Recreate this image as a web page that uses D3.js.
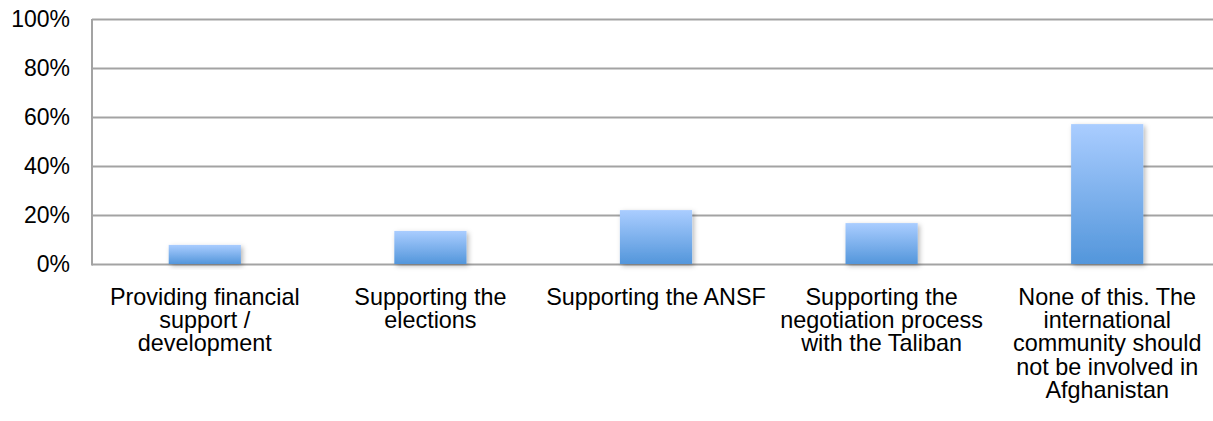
<!DOCTYPE html>
<html>
<head>
<meta charset="utf-8">
<script src="https://cdn.jsdelivr.net/npm/d3@7"></script>
<style>
  html, body { margin: 0; padding: 0; background: #fff; }
  svg { display: block; }
  text { font-family: "Liberation Sans", Arial, Helvetica, sans-serif; fill: #000; }
</style>
</head>
<body>
<svg id="chart" width="1213" height="421"></svg>
<script>
const categories = [
  "Providing financial\nsupport /\ndevelopment",
  "Supporting the\nelections",
  "Supporting the ANSF",
  "Supporting the\nnegotiation process\nwith the Taliban",
  "None of this. The\ninternational\ncommunity should\nnot be involved in\nAfghanistan"
];
const values = [0.078, 0.135, 0.22, 0.167, 0.571];
const yTicks = [0, 0.2, 0.4, 0.6, 0.8, 1.0];

const svg = d3.select("#chart");
const margin = { left: 92, top: 19, right: -7, bottom: 157 };
const W = 1213, H = 421;
const x0 = margin.left, x1 = W - margin.right;
const yTop = margin.top, yBot = H - margin.bottom;

const x = d3.scaleBand().domain(categories).range([x0, x1]).paddingInner(0).paddingOuter(0);
const y = d3.scaleLinear().domain([0, 1]).range([yBot, yTop]);

const defs = svg.append("defs");
const grad = defs.append("linearGradient").attr("id", "barGrad")
  .attr("x1", 0).attr("y1", 0).attr("x2", 0).attr("y2", 1);
grad.append("stop").attr("offset", "0%").attr("stop-color", "#aacdff");
grad.append("stop").attr("offset", "100%").attr("stop-color", "#5396db");

const filt = defs.append("filter").attr("id", "shadow")
  .attr("x", "-30%").attr("y", "-30%").attr("width", "160%").attr("height", "160%");
filt.append("feDropShadow").attr("dx", 2).attr("dy", 2).attr("stdDeviation", 2.5)
  .attr("flood-color", "#000").attr("flood-opacity", 0.28);

// gridlines
const grid = svg.append("g");
yTicks.forEach(t => {
  grid.append("line")
    .attr("x1", x0).attr("x2", W)
    .attr("y1", Math.round(y(t)) + 0.5).attr("y2", Math.round(y(t)) + 0.5)
    .attr("stroke", "#a3a3a3").attr("stroke-width", 2);
});

// left axis line
svg.append("line")
  .attr("x1", x0).attr("x2", x0)
  .attr("y1", y(1)).attr("y2", y(0) + 1.5)
  .attr("stroke", "#a3a3a3").attr("stroke-width", 2);

// bars
const barFrac = 0.32;
svg.append("g").selectAll("rect").data(values).join("rect")
  .attr("x", (d, i) => x(categories[i]) + x.bandwidth() * (1 - barFrac) / 2)
  .attr("width", x.bandwidth() * barFrac)
  .attr("y", d => y(d))
  .attr("height", d => y(0) - y(d))
  .attr("fill", "url(#barGrad)")
  .attr("filter", "url(#shadow)");

// y labels
const yAxis = d3.axisLeft(y).tickValues(yTicks).tickFormat(d3.format(".0%")).tickSize(0).tickPadding(22);
const ya = svg.append("g").attr("transform", `translate(${x0},0)`).call(yAxis);
ya.select(".domain").remove();
ya.selectAll("text").attr("font-size", 23).attr("font-family", "Liberation Sans, Arial, sans-serif").attr("fill", "#000");

// x labels
const xl = svg.append("g");
categories.forEach(c => {
  const lines = c.split("\n");
  const cx = x(c) + x.bandwidth() / 2;
  const t = xl.append("text")
    .attr("text-anchor", "middle")
    .attr("font-size", 23.4)
    .attr("x", cx)
    .attr("y", 305);
  lines.forEach((ln, i) => {
    t.append("tspan").attr("x", cx).attr("dy", i === 0 ? 0 : 23.2).text(ln);
  });
});
</script>
</body>
</html>
